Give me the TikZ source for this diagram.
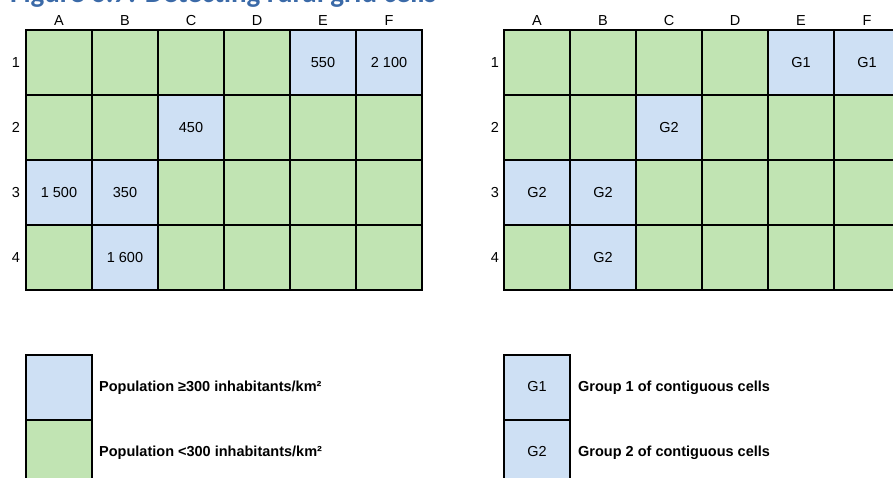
\documentclass[tikz,border=0pt]{standalone}
\usepackage{fontspec}
\setmainfont{Liberation Sans}
\newfontfamily\titlefont{Carlito}
\definecolor{cgreen}{RGB}{193,228,179}
\definecolor{cblue}{RGB}{206,224,244}
\definecolor{ctitle}{RGB}{59,106,168}
\begin{document}
\begin{tikzpicture}[x=1pt,y=-1pt,
  cell/.style={draw=black,line width=2pt,minimum width=66pt,minimum height=65pt,inner sep=0pt,font=\fontsize{14.5}{17}\selectfont},
  lab/.style={font=\fontsize{14.5}{17}\selectfont,inner sep=0pt},
  legtext/.style={font=\bfseries\fontsize{14.5}{17}\selectfont,anchor=west,inner sep=0pt}]
\useasboundingbox (0,0) rectangle (893,478);
% title (cut off by the page edge)
\node[anchor=base west,inner sep=0pt,text=ctitle,font=\titlefont\bfseries\fontsize{29}{30}\selectfont] (title) at (10,3) {Figure 6.7: Detecting rural grid cells};
% ---------- left grid ----------
\foreach \col [count=\i] in {A,B,C,D,E,F}
  \node[lab] (LH\i) at ({59+66*(\i-1)},21) {\col};
\foreach \r in {1,2,3,4}
  \node[lab] (LR\r) at (16,{62.5+65*(\r-1)}) {\r};
\foreach \f/\t [count=\i] in {cgreen/{},cgreen/{},cgreen/{},cgreen/{},cblue/550,cblue/{2 100}}
  \node[cell,fill=\f] (L1\i) at ({59+66*(\i-1)},62.5) {\t};
\foreach \f/\t [count=\i] in {cgreen/{},cgreen/{},cblue/450,cgreen/{},cgreen/{},cgreen/{}}
  \node[cell,fill=\f] (L2\i) at ({59+66*(\i-1)},127.5) {\t};
\foreach \f/\t [count=\i] in {cblue/{1 500},cblue/350,cgreen/{},cgreen/{},cgreen/{},cgreen/{}}
  \node[cell,fill=\f] (L3\i) at ({59+66*(\i-1)},192.5) {\t};
\foreach \f/\t [count=\i] in {cgreen/{},cblue/{1 600},cgreen/{},cgreen/{},cgreen/{},cgreen/{}}
  \node[cell,fill=\f] (L4\i) at ({59+66*(\i-1)},257.5) {\t};
% ---------- right grid ----------
\foreach \col [count=\i] in {A,B,C,D,E,F}
  \node[lab] (RH\i) at ({537+66*(\i-1)},21) {\col};
\foreach \r in {1,2,3,4}
  \node[lab] (RR\r) at (495,{62.5+65*(\r-1)}) {\r};
\foreach \f/\t [count=\i] in {cgreen/{},cgreen/{},cgreen/{},cgreen/{},cblue/G1,cblue/G1}
  \node[cell,fill=\f] (R1\i) at ({537+66*(\i-1)},62.5) {\t};
\foreach \f/\t [count=\i] in {cgreen/{},cgreen/{},cblue/G2,cgreen/{},cgreen/{},cgreen/{}}
  \node[cell,fill=\f] (R2\i) at ({537+66*(\i-1)},127.5) {\t};
\foreach \f/\t [count=\i] in {cblue/G2,cblue/G2,cgreen/{},cgreen/{},cgreen/{},cgreen/{}}
  \node[cell,fill=\f] (R3\i) at ({537+66*(\i-1)},192.5) {\t};
\foreach \f/\t [count=\i] in {cgreen/{},cblue/G2,cgreen/{},cgreen/{},cgreen/{},cgreen/{}}
  \node[cell,fill=\f] (R4\i) at ({537+66*(\i-1)},257.5) {\t};
% ---------- legends ----------
\node[cell,fill=cblue] (LegHi) at (59,387) {};
\node[cell,fill=cgreen] (LegLo) at (59,452) {};
\node[legtext] (LegHiT) at (99,388) {Population ≥300 inhabitants/km²};
\node[legtext] (LegLoT) at (99,453) {Population <300 inhabitants/km²};
\node[cell,fill=cblue] (LegG1) at (537,387) {G1};
\node[cell,fill=cblue] (LegG2) at (537,452) {G2};
\node[legtext] (LegG1T) at (578,388) {Group 1 of contiguous cells};
\node[legtext] (LegG2T) at (578,453) {Group 2 of contiguous cells};
\end{tikzpicture}
\end{document}
